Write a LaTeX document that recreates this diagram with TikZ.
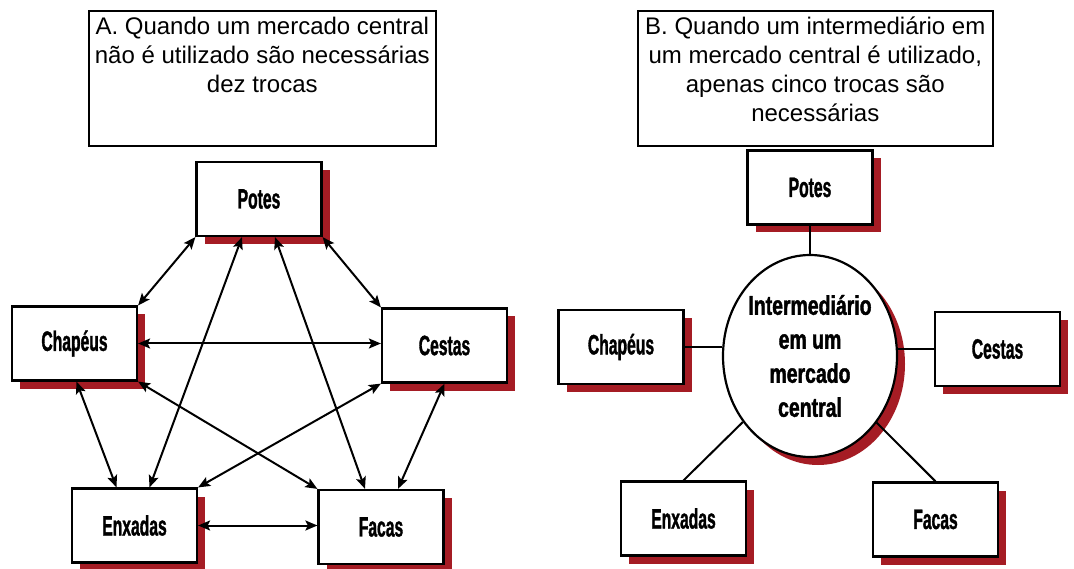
\documentclass[tikz,border=0pt]{standalone}
\usepackage{fontspec}
\usetikzlibrary{shapes.geometric,shadows,arrows.meta}
\newfontfamily\titlefont{Liberation Sans}
\newfontfamily\boxfont[FakeStretch=0.56,FakeBold=1.2]{Liberation Sans}
\newfontfamily\hubfont[FakeStretch=0.72,FakeBold=1.5]{Liberation Sans}
\definecolor{shadowred}{RGB}{165,28,36}
\tikzset{
  redshadow/.style={drop shadow={shadow xshift=8pt,shadow yshift=-8pt,fill=shadowred,opacity=1}},
  item/.style={draw,line width=2.2pt,fill=white,minimum width=125pt,minimum height=74pt,
    inner sep=0pt,redshadow,font=\boxfont\bfseries\fontsize{28}{30}\selectfont},
  hub/.style={ellipse,draw,line width=2.2pt,fill=white,minimum width=174pt,
    minimum height=202pt,inner sep=0pt,redshadow},
  hubtext/.style={align=center,inner sep=0pt,font=\hubfont\bfseries\fontsize{27}{34}\selectfont},
  titlebox/.style={draw,line width=1.6pt,fill=white,inner sep=0pt,anchor=north west},
  titletext/.style={align=center,inner sep=0pt,anchor=north,font=\titlefont\fontsize{24}{29}\selectfont},
}
\begin{document}
\begin{tikzpicture}[x=1pt,y=-1pt,>={Stealth[length=12pt,width=10pt,inset=2.5pt]},
    every edge/.append style={line width=2pt}]
    \path[use as bounding box,fill=white] (0,0) rectangle (1074,569);
    % A: sem mercado central
    \node[titlebox,minimum width=347pt,minimum height=135pt] (A_title) at (88,10) {};
    \node[titletext] (A_text) at ([yshift=-6.5pt]A_title.north)
      {A. Quando um mercado central\\não é utilizado são necessárias\\dez trocas};
    \node[item] (A_pot) at (259,199) {Potes};
    \node[item] (A_cha) at (74.5,343.5) {Chapéus};
    \node[item] (A_ces) at (444.5,345.5) {Cestas};
    \node[item] (A_enx) at (134.5,525.5) {Enxadas};
    \node[item] (A_fac) at (381,527) {Facas};
    \path (A_pot.south west) edge [<->] (A_cha.north east);
    \path ([xshift=-17pt]A_pot.south) edge [<->] ([xshift=15pt]A_enx.north);
    \path ([xshift=16pt]A_pot.south) edge [<->] ([xshift=-16pt]A_fac.north);
    \path (A_pot.south east) edge [<->] (A_ces.north west);
    \path (A_cha.east) edge [<->] (A_ces.west |- A_cha.east);
    \path ([xshift=2pt]A_cha.south) edge [<->] ([xshift=-18pt]A_enx.north);
    \path (A_cha.south east) edge [<->] (A_fac.north west);
    \path (A_ces.south west) edge [<->] (A_enx.north east);
    \path (A_ces.south) edge [<->] ([xshift=17pt]A_fac.north);
    \path (A_enx.east) edge [<->] (A_fac.west |- A_enx.east);
    % B: com intermediario
    \node[titlebox,minimum width=355pt,minimum height=135pt] (B_title) at (637,10) {};
    \node[titletext] (B_text) at ([yshift=-6.5pt]B_title.north)
      {B. Quando um intermediário em\\um mercado central é utilizado,\\apenas cinco trocas são\\necessárias};
    \node[item] (B_pot) at (810,187.5) {Potes};
    \node[hub] (hub) at (810,356) {};
    \node[hubtext] (hub_txt) at (hub.center) {Intermediário\\em um\\mercado\\central};
    \node[item] (B_cha) at (621,347) {Chapéus};
    \node[item] (B_ces) at (997.5,349) {Cestas};
    \node[item] (B_enx) at (683.5,518.5) {Enxadas};
    \node[item] (B_fac) at (935.5,519.5) {Facas};
    \path (B_pot) edge (hub);
    \path (B_cha.east) edge (B_cha.east -| hub.west);
    \path (B_ces.west) edge (B_ces.west -| hub.east);
    \path (B_enx.north) edge (hub);
    \path (B_fac.north) edge (hub);
\end{tikzpicture}
\end{document}
